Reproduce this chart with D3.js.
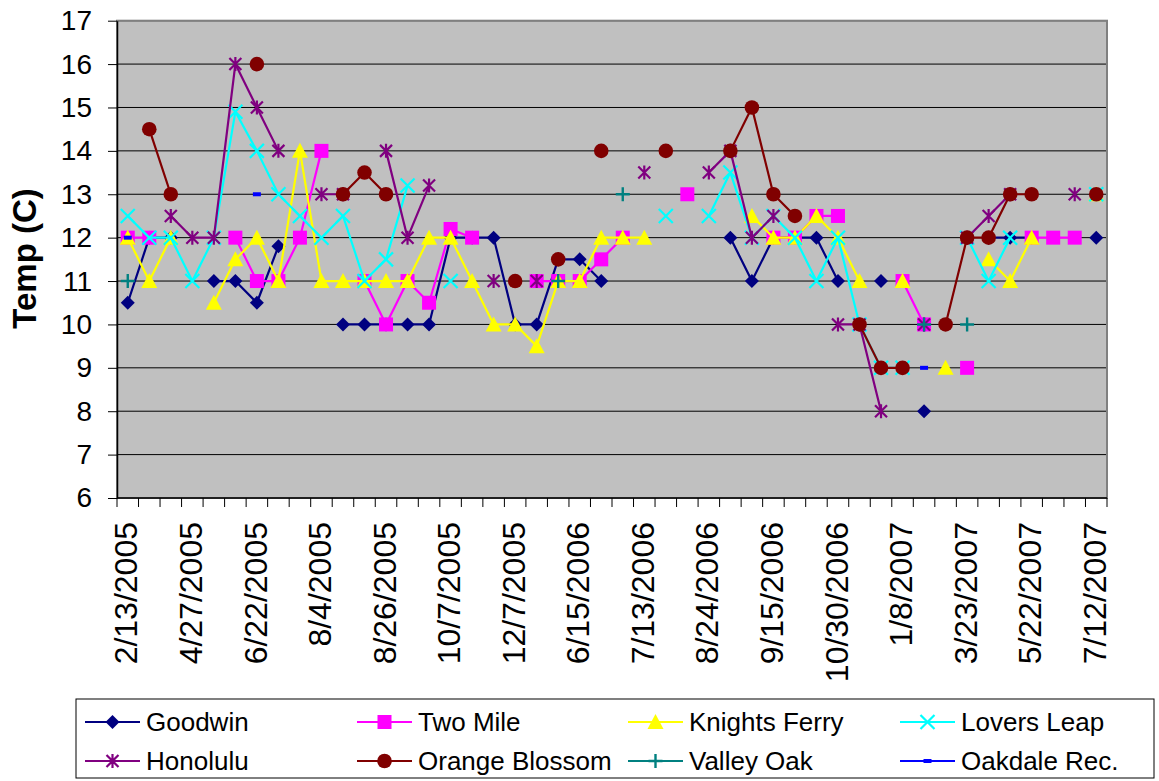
<!DOCTYPE html>
<html>
<head>
<meta charset="utf-8">
<script src="https://cdnjs.cloudflare.com/ajax/libs/d3/7.8.5/d3.min.js"></script>
<style>
  body { margin: 0; background: #fff; }
  svg { display: block; font-family: "Liberation Sans", Arial, sans-serif; }
</style>
</head>
<body>
<div id="chart"></div>
<script>
const N = null;

// sampling dates (one per category)
const categories = [
  "2/13/2005", "3/10/2005", "4/4/2005", "4/27/2005", "5/18/2005", "6/8/2005",
  "6/22/2005", "7/7/2005", "7/21/2005", "8/4/2005", "8/11/2005", "8/18/2005",
  "8/26/2005", "9/8/2005", "9/22/2005", "10/7/2005", "10/28/2005", "11/16/2005",
  "12/7/2005", "3/15/2006", "5/17/2006", "6/15/2006", "6/22/2006", "6/29/2006",
  "7/13/2006", "7/27/2006", "8/10/2006", "8/24/2006", "8/31/2006", "9/7/2006",
  "9/15/2006", "9/29/2006", "10/13/2006", "10/30/2006", "11/20/2006", "12/11/2006",
  "1/8/2007", "2/5/2007", "3/5/2007", "3/23/2007", "4/18/2007", "5/8/2007",
  "5/22/2007", "6/12/2007", "6/26/2007", "7/12/2007"
];

// labels printed under the axis
const tickLabels = [
  "2/13/2005", "4/27/2005", "6/22/2005", "8/4/2005", "8/26/2005", "10/7/2005",
  "12/7/2005", "6/15/2006", "7/13/2006", "8/24/2006", "9/15/2006", "10/30/2006",
  "1/8/2007", "3/23/2007", "5/22/2007", "7/12/2007"
];

const yTicks = [6, 7, 8, 9, 10, 11, 12, 13, 14, 15, 16, 17];

const goodwin = [10.5, 12, 12, N, 11, 11, 10.5, 11.8, N, N,
  10, 10, 10, 10, 10, 12, 12, 12, 10, 10,
  11.5, 11.5, 11, N, N, N, N, N, 12, 11,
  12, 12, 12, 11, N, 11, N, 8, N, N,
  12, 12, 12, N, N, 12];

const twoMile = [12, 12, N, N, N, 12, 11, 11, 12, 14,
  N, 11, 10, 11, 10.5, 12.2, 12, N, N, 11,
  11, 11, 11.5, 12, N, N, 13, N, N, N,
  12, 12, 12.5, 12.5, N, N, 11, 10, N, 9,
  N, N, 12, 12, 12, N];

const knightsFerry = [12, 11, 12, N, 10.5, 11.5, 12, 11, 14, 11,
  11, 11, 11, 11, 12, 12, 11, 10, 10, 9.5,
  11, 11, 12, 12, 12, N, N, N, N, 12.5,
  12, 12, 12.5, 12, 11, N, 11, N, 9, N,
  11.5, 11, 12, N, N, 13];

const loversLeap = [12.5, 12, 12, 11, 12, 14.9, 14, 13, 12.5, 12,
  12.5, 11, 11.5, 13.2, N, 11, N, N, N, N,
  N, N, N, N, N, 12.5, N, 12.5, 13.5, 12,
  12.5, 12, 11, 12, 10, 9, 9, N, N, 12,
  11, 12, N, N, N, 13];

const honolulu = [N, N, 12.5, 12, 12, 16, 15, 14, N, 13,
  13, N, 14, 12, 13.2, N, N, 11, N, 11,
  N, N, N, N, 13.5, N, N, 13.5, 14, 12,
  12.5, N, N, 10, 10, 8, N, 10, N, 12,
  12.5, 13, N, N, 13, N];

const orangeBlossom = [N, 14.5, 13, N, N, N, 16, N, N, N,
  13, 13.5, 13, N, N, N, N, N, 11, N,
  11.5, N, 14, N, N, 14, N, N, 14, 15,
  13, 12.5, N, N, 10, 9, 9, N, 10, 12,
  12, 13, 13, N, N, 13];

const valleyOak = [11, N, N, N, N, N, N, N, N, N,
  N, N, N, N, N, N, N, N, N, N,
  11, N, N, 13, N, N, N, N, N, N,
  N, N, N, N, N, N, N, 10, N, 10,
  N, N, N, N, N, N];

const oakdaleRec = [12, N, N, N, N, N, 13, N, N, N,
  N, N, N, N, N, N, N, N, N, N,
  N, N, N, N, N, N, N, N, N, N,
  N, N, N, N, N, N, N, 9, N, N,
  N, N, N, N, N, N];

const series = [
  { name: "Goodwin", values: goodwin, color: "#000080", marker: "diamond" },
  { name: "Two Mile", values: twoMile, color: "#FF00FF", marker: "square" },
  { name: "Knights Ferry", values: knightsFerry, color: "#FFFF00", marker: "triangle" },
  { name: "Lovers Leap", values: loversLeap, color: "#00FFFF", marker: "x" },
  { name: "Honolulu", values: honolulu, color: "#800080", marker: "asterisk" },
  { name: "Orange Blossom", values: orangeBlossom, color: "#800000", marker: "circle" },
  { name: "Valley Oak", values: valleyOak, color: "#008080", marker: "plus" },
  { name: "Oakdale Rec.", values: oakdaleRec, color: "#0000FF", marker: "dash" }
];

const width = 1159, height = 781;
const plot = { left: 117, right: 1107, top: 20.7, bottom: 498 };

const svg = d3.select("#chart").append("svg")
  .attr("width", width)
  .attr("height", height);

const x = d3.scaleBand().domain(categories).range([plot.left, plot.right]);
const cx = c => x(c) + x.bandwidth() / 2;
const y = d3.scaleLinear().domain([6, 17]).range([plot.bottom, plot.top]);

// plot background
svg.append("rect")
  .attr("x", plot.left).attr("y", plot.top)
  .attr("width", plot.right - plot.left).attr("height", plot.bottom - plot.top)
  .attr("fill", "#C0C0C0");

// gridlines
svg.append("g").selectAll("line")
  .data(yTicks.slice(1))
  .enter().append("line")
  .attr("x1", plot.left).attr("x2", plot.right)
  .attr("y1", d => y(d)).attr("y2", d => y(d))
  .attr("stroke", "#000").attr("stroke-width", 1);

// gray plot border
svg.append("rect")
  .attr("x", plot.left).attr("y", plot.top)
  .attr("width", plot.right - plot.left).attr("height", plot.bottom - plot.top)
  .attr("fill", "none").attr("stroke", "#808080").attr("stroke-width", 2);

// y axis
const yAxis = svg.append("g")
  .attr("transform", `translate(${plot.left},0)`)
  .call(d3.axisLeft(y).tickValues(yTicks).tickSize(9).tickPadding(16).tickSizeOuter(0));
yAxis.select(".domain").attr("stroke", "#000").attr("stroke-width", 1.5);
yAxis.selectAll(".tick line").attr("stroke", "#000");
yAxis.selectAll("text")
  .attr("fill", "#000")
  .style("font-size", "28px")
  .style("font-family", "'Liberation Sans', Arial, sans-serif");

// x axis: boundary ticks
const xAxis = svg.append("g").attr("transform", `translate(0,${plot.bottom})`);
xAxis.append("line")
  .attr("x1", plot.left).attr("x2", plot.right)
  .attr("stroke", "#000").attr("stroke-width", 1.5);
xAxis.selectAll(".bt")
  .data(d3.range(categories.length + 1))
  .enter().append("line")
  .attr("class", "bt")
  .attr("x1", k => plot.left + k * x.step())
  .attr("x2", k => plot.left + k * x.step())
  .attr("y1", 0).attr("y2", 9)
  .attr("stroke", "#000");

xAxis.selectAll(".xl")
  .data(tickLabels)
  .enter().append("text")
  .attr("class", "xl")
  .attr("transform", d => `translate(${cx(d)},24) rotate(-90)`)
  .attr("text-anchor", "end")
  .attr("dy", "0.3em")
  .style("font-size", "32px")
  .attr("fill", "#000")
  .text(d => d);

// y label
svg.append("text")
  .attr("transform", "translate(36,258.5) rotate(-90)")
  .attr("text-anchor", "middle")
  .style("font-size", "33px")
  .style("font-weight", "bold")
  .text("Temp (C)");

// markers
function drawMarker(g, type, color) {
  switch (type) {
    case "diamond":
      g.append("path").attr("d", "M0,-7L7,0L0,7L-7,0Z").attr("fill", color);
      break;
    case "square":
      g.append("rect").attr("x", -7).attr("y", -7).attr("width", 14).attr("height", 14).attr("fill", color);
      break;
    case "triangle":
      g.append("path").attr("d", "M0,-8L8,7L-8,7Z").attr("fill", color);
      break;
    case "circle":
      g.append("circle").attr("r", 7.3).attr("fill", color);
      break;
    case "x":
      g.append("path").attr("d", "M-7,-7L7,7M-7,7L7,-7")
        .attr("stroke", color).attr("stroke-width", 2.2).attr("fill", "none");
      break;
    case "asterisk":
      g.append("path").attr("d", "M-6,-6L6,6M-6,6L6,-6M0,-7L0,7")
        .attr("stroke", color).attr("stroke-width", 2.2).attr("fill", "none");
      break;
    case "plus":
      g.append("path").attr("d", "M-7,0L7,0M0,-7L0,7")
        .attr("stroke", color).attr("stroke-width", 2.4).attr("fill", "none");
      break;
    case "dash":
      g.append("rect").attr("x", -4).attr("y", -2).attr("width", 8).attr("height", 4).attr("fill", color);
      break;
  }
}

const line = d3.line()
  .defined(d => d.v !== null)
  .x(d => cx(d.c))
  .y(d => y(d.v));

series.forEach(s => {
  const pts = categories.map((c, i) => ({ c: c, v: s.values[i] }));
  const g = svg.append("g");
  g.append("path")
    .attr("d", line(pts))
    .attr("fill", "none")
    .attr("stroke", s.color)
    .attr("stroke-width", 2.2)
    .attr("stroke-linejoin", "round");
  pts.filter(d => d.v !== null).forEach(d => {
    const m = g.append("g").attr("transform", `translate(${cx(d.c)},${y(d.v)})`);
    drawMarker(m, s.marker, s.color);
  });
});

// legend
const legend = svg.append("g");
legend.append("rect")
  .attr("x", 76).attr("y", 699)
  .attr("width", 1078).attr("height", 79)
  .attr("fill", "#fff").attr("stroke", "#000").attr("stroke-width", 1);

const colX = [85, 357, 628, 900];
const rowY = [722, 761];
series.forEach((s, i) => {
  const lx = colX[i % 4], ly = rowY[Math.floor(i / 4)];
  const g = legend.append("g").attr("transform", `translate(${lx},${ly})`);
  g.append("line").attr("x1", 0).attr("x2", 55)
    .attr("stroke", s.color).attr("stroke-width", 2.2);
  const m = g.append("g").attr("transform", "translate(27.5,0)");
  drawMarker(m, s.marker, s.color);
  g.append("text")
    .attr("x", 61).attr("dy", "0.36em")
    .style("font-size", "26px")
    .attr("fill", "#000")
    .text(s.name);
});
</script>
</body>
</html>
